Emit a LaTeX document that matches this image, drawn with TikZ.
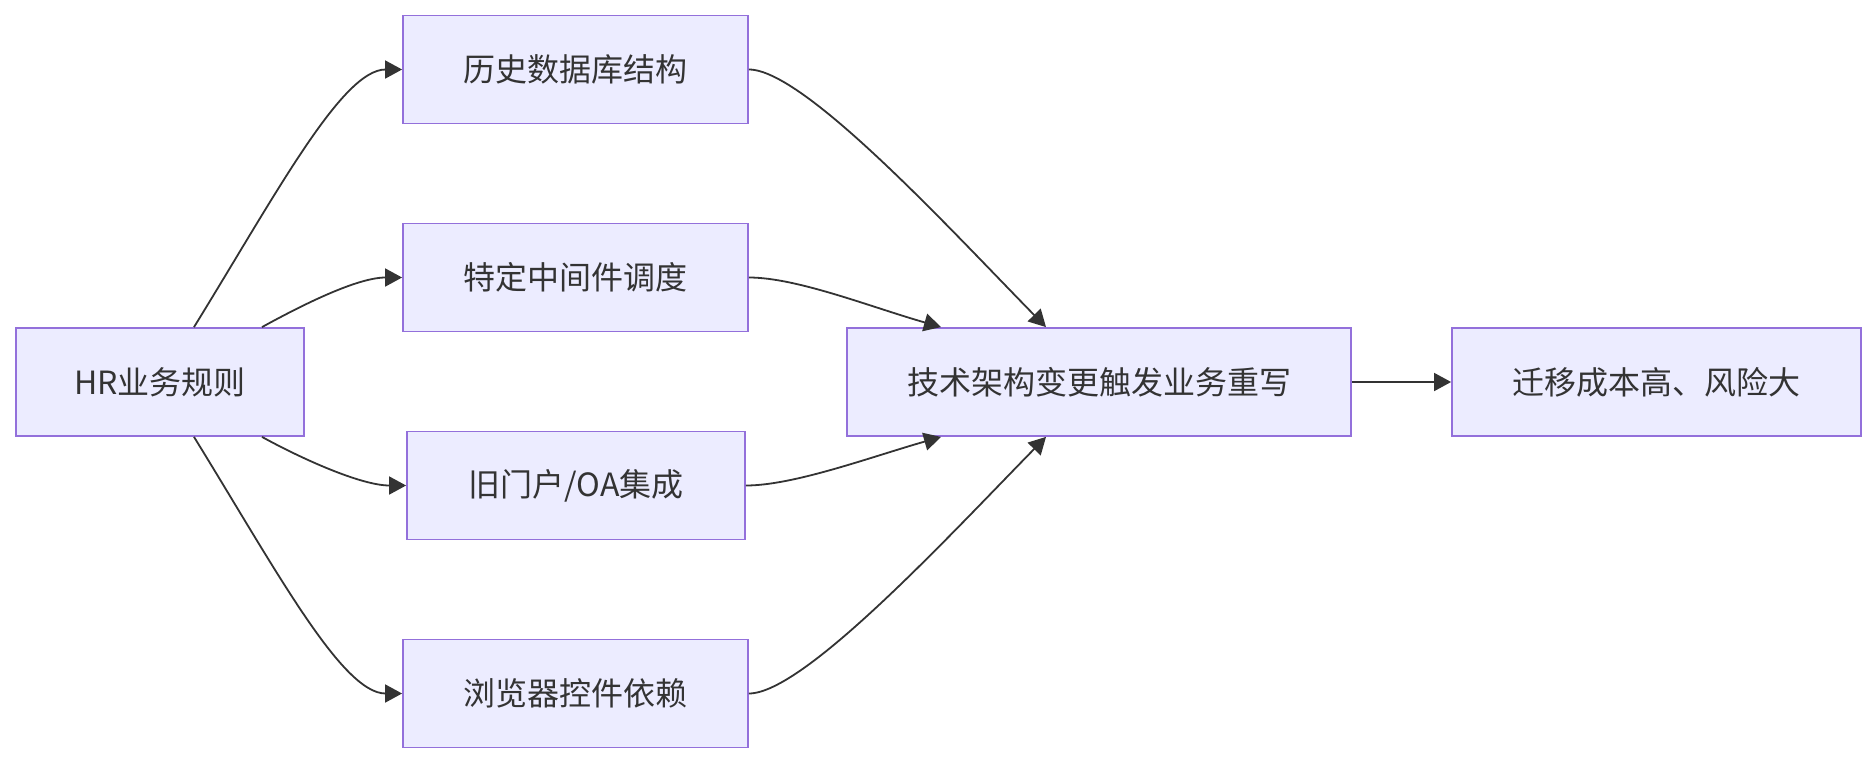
\documentclass[tikz,border=0pt]{standalone}
\usepackage{fontspec}
\setmainfont{Noto Sans CJK SC}
\usetikzlibrary{arrows.meta}
\definecolor{boxfill}{HTML}{ECECFF}
\definecolor{boxline}{HTML}{9370DB}
\definecolor{ink}{HTML}{333333}
\begin{document}
\begin{tikzpicture}[
    x=1pt, y=-1pt,
    node distance=208pt,
    box/.style={rectangle, draw=boxline, line width=1.8pt, fill=boxfill, text=ink,
        font=\fontsize{32}{38}\selectfont, minimum width=345pt, minimum height=108pt, inner sep=0pt},
    arrow/.style={-{Triangle[length=17pt, width=18pt]}, line width=1.8pt, draw=ink}
]
\useasboundingbox (0,0) rectangle (1875,764);

% Source
\node[box, minimum width=288pt] (hr) at (160,382) {HR业务规则};

% Middle column
\node[box] (db) at (575.5,69.5) {历史数据库结构};
\node[box, below of=db] (mw) {特定中间件调度};
\node[box, below of=mw, minimum width=338pt, xshift=0.5pt] (oa) {旧门户/OA集成};
\node[box, below of=oa, xshift=-0.5pt] (ctl) {浏览器控件依赖};

% Result
\node[box, minimum width=504pt] (rw) at (1099,382) {技术架构变更触发业务重写};
\node[box, minimum width=409pt] (cost) at (1656.5,382) {迁移成本高、风险大};

% Arrows in
\draw[arrow] ([xshift=34pt]hr.north) .. controls +(82,-133) and +(-60,0) .. (db.west);
\draw[arrow] ([xshift=102pt]hr.north) .. controls +(40,-22) and +(-45,0) .. (mw.west);
\draw[arrow] ([xshift=102pt]hr.south) .. controls +(40,22) and +(-45,0) .. (oa.west);
\draw[arrow] ([xshift=34pt]hr.south) .. controls +(82,133) and +(-60,0) .. (ctl.west);

% Arrows out
\draw[arrow] (db.east) .. controls +(55,0) and +(-96,-98) .. ([xshift=-53pt]rw.north);
\draw[arrow] (mw.east) .. controls +(48,0) and +(-70,-20) .. ([xshift=-158pt]rw.north);
\draw[arrow] (oa.east) .. controls +(48,0) and +(-70,20) .. ([xshift=-158pt]rw.south);
\draw[arrow] (ctl.east) .. controls +(55,0) and +(-96,98) .. ([xshift=-53pt]rw.south);
\draw[arrow] (rw) -- (cost);

\end{tikzpicture}
\end{document}
